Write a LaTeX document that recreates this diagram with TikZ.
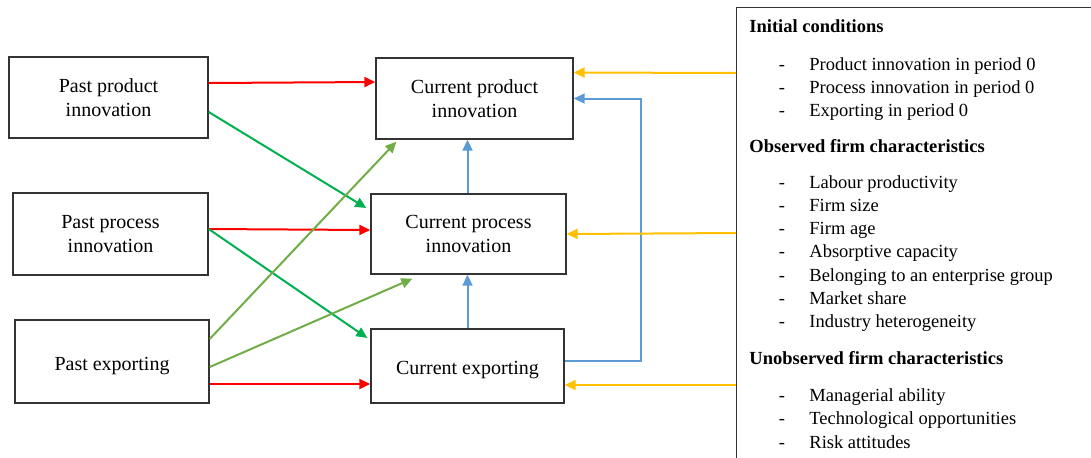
\documentclass[tikz,border=0pt]{standalone}
\usepackage{fontspec}
\setmainfont{Liberation Serif}
\usetikzlibrary{positioning,arrows.meta}
\definecolor{arrred}{RGB}{255,0,0}
\definecolor{arrgreen}{RGB}{0,176,80}
\definecolor{arrlime}{RGB}{112,173,71}
\definecolor{arrblue}{RGB}{91,155,213}
\definecolor{arrorange}{RGB}{255,192,0}

\begin{document}
\begin{tikzpicture}
		[x=0.5pt,y=-0.5pt,
		boxnode/.style={rectangle, draw=black!80, line width=0.7pt, align=center, font=\fontsize{10}{12}\selectfont, inner sep=0pt},
		onelinebox/.style={boxnode, text height=10.5pt, text depth=2pt},
		panelbox/.style={rectangle, draw=black!80, line width=0.7pt, anchor=north west, minimum width=220pt, minimum height=260pt},
		headnode/.style={anchor=base west, inner sep=0pt, font=\fontsize{9.25}{11}\selectfont\bfseries},
		itemnode/.style={anchor=base west, inner sep=0pt, font=\fontsize{9.25}{11}\selectfont},
		dashnode/.style={anchor=base, inner sep=0pt, font=\fontsize{9.25}{11}\selectfont},
		link/.style={line width=1pt, -{Triangle[length=5.5pt,width=5pt]}},
		]
		\useasboundingbox (0,0) rectangle (1091,457);
		\clip (0,0) rectangle (1091,457);
		
		%Nodes
		\node[boxnode, minimum width=99.5pt, minimum height=40.5pt](pprod) at (108.5,97.5) {Past product\\innovation};
		\node[boxnode, minimum width=97.5pt, minimum height=41pt](pproc) at (110.5,234) {Past process\\innovation};
		\node[onelinebox, minimum width=97pt, minimum height=41.5pt](pexp) at (112,361.5) {Past exporting};
		\node[boxnode, minimum width=98.5pt, minimum height=40.5pt](cprod) at (474.5,98.5) {Current product\\innovation};
		\node[boxnode, minimum width=97.5pt, minimum height=40pt](cproc) at (468.5,234) {Current process\\innovation};
		\node[onelinebox, minimum width=96.5pt, minimum height=37pt](cexp) at (467.5,366) {Current exporting};
		\node[panelbox](panel) at (736,7) {};
		
		%Panel text
		\node[headnode](hinit) at (749,32) {Initial conditions};
		\node[headnode](hobs) at (749,152) {Observed firm characteristics};
		\node[headnode](hunobs) at (749,364) {Unobserved firm characteristics};
		\foreach \y/\t [count=\i] in {70/Product innovation in period 0, 93/Process innovation in period 0, 116/Exporting in period 0,
				188/Labour productivity, 211/Firm size, 234/Firm age, 257/Absorptive capacity, 281/Belonging to an enterprise group, 304/Market share, 327/Industry heterogeneity,
				401/Managerial ability, 424/Technological opportunities, 448/Risk attitudes}
		{
			\node[dashnode](dash\i) at (782,\y) {-};
			\node[itemnode](item\i) at (809,\y) {\t};
		}
		
		%Free ends on the panel
		\coordinate (fromic) at (736,73);
		\coordinate (fromobs) at (736,233);
		\coordinate (fromunobs) at (736,385);
		\coordinate (loopcorner) at (641,98.5);
		
		%Lines
		\draw[link, arrred]([yshift=7.25pt]pprod.east) -- ([yshift=8.25pt]cprod.west);
		\draw[link, arrred]([yshift=2.5pt]pproc.east) -- ([yshift=2pt]cproc.west);
		\draw[link, arrred]([yshift=-11.25pt]pexp.east) -- ([yshift=-9pt]cexp.west);
		\draw[link, arrgreen]([yshift=-7.25pt]pprod.east) -- ([xshift=-2pt,yshift=13pt]cproc.west);
		\draw[link, arrgreen]([yshift=2.5pt]pproc.east) -- ([xshift=-1.5pt,yshift=14pt]cexp.west);
		\draw[link, arrlime]([yshift=11.25pt]pexp.east) -- ([xshift=10.5pt,yshift=-1pt]cprod.south west);
		\draw[link, arrlime]([yshift=-2.75pt]pexp.east) -- ([xshift=21pt,yshift=-2pt]cproc.south west);
		\draw[link, arrblue](cproc.north -| cexp.north) -- (cprod.south -| cexp.north);
		\draw[link, arrblue](cexp.north) -- (cproc.south -| cexp.north);
		\draw[link, arrblue]([yshift=2.5pt]cexp.east) -| (loopcorner) -- (cprod.east);
		\draw[link, arrorange](fromic) -- ([yshift=13pt]cprod.east);
		\draw[link, arrorange](fromobs) -- (cproc.east);
		\draw[link, arrorange](fromunobs) -- ([yshift=-9.5pt]cexp.east);
	\end{tikzpicture}
\end{document}
